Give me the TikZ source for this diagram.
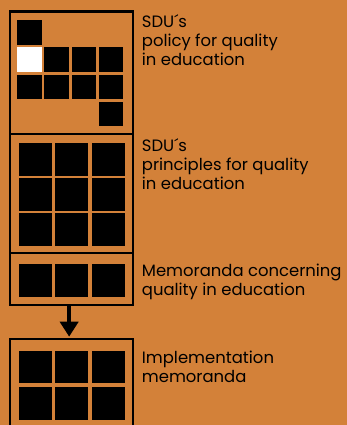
\documentclass[tikz,border=0pt]{standalone}
\usepackage{fontspec}
\setmainfont{Poppins}
\usetikzlibrary{arrows.meta}
\definecolor{sduorange}{RGB}{211,129,57}
\begin{document}
\begin{tikzpicture}[x=1bp,y=-1bp]
	\fill[sduorange] (0,0) rectangle (347,425);
	\clip (0,0) rectangle (347,425);
	\begin{scope}[line width=2.2bp, every node/.style={inner sep=0pt,outer sep=0pt}]
		\node[draw,minimum width=123.3bp,minimum height=122.5bp] (policy) at (71.65,72.75) {};
		\node[draw,minimum width=123.3bp,minimum height=119.3bp] (principles) at (71.65,193.65) {};
		\node[draw,minimum width=123.3bp,minimum height=51.7bp] (memoranda) at (71.65,279.15) {};
		\node[draw,minimum width=123.3bp,minimum height=120.7bp] (implementation) at (71.65,399.65) {};
		\foreach \c/\r in {0/0,1/1,2/1,3/1,0/2,1/2,2/2,3/2,3/3}
			\fill[black] (17.3+27.1*\c,20.3+27.1*\r) rectangle +(24.5,24.5);
		\fill[white] (17.3,47.4) rectangle +(24.5,24.5);
		\foreach \c in {0,1,2} {
			\foreach \r in {0,1,2}
				\fill[black] (19+36.3*\c,143.3+35*\r) rectangle +(33,32.4);
			\fill[black] (19+36.3*\c,264.3) rectangle +(33,32.4);
			\fill[black] (19+36.3*\c,351) rectangle +(33,32.3);
			\fill[black] (19+36.3*\c,387.3) rectangle +(33,32.3);
		}
		\draw[line width=4bp,-{Triangle[width=18bp,length=15bp]},shorten >=2.6bp]
			([xshift=-2.5bp]memoranda.south) -- ([xshift=-2.5bp]implementation.north);
	\end{scope}
	\begin{scope}[every node/.style={anchor=base west,align=left,inner sep=0pt,
		font=\fontsize{16.5}{19}\selectfont}]
		\node (policytext) at (141.7,65.3) {SDU´s\\policy for quality\\in education};
		\node (principlestext) at (141.7,189.3) {SDU´s\\principles for quality\\in education};
		\node (memorandatext) at (141.7,295) {Memoranda concerning\\quality in education};
		\node (implementationtext) at (141.7,382.7) {Implementation\\memoranda};
	\end{scope}
\end{tikzpicture}
\end{document}
